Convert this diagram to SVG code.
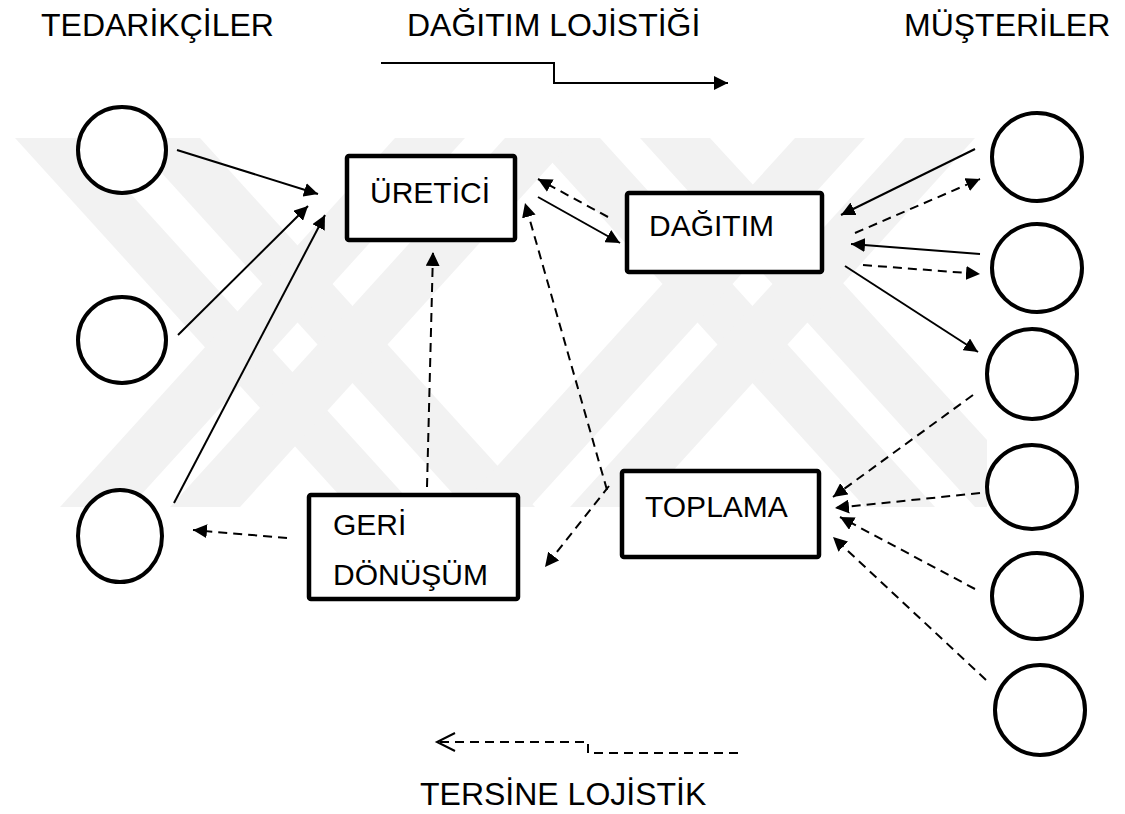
<svg xmlns="http://www.w3.org/2000/svg" width="1125" height="814" viewBox="0 0 1125 814">
<style>
.t{font-family:"Liberation Sans",Arial,sans-serif;fill:#000}
.h{font-size:32px}
.b{font-size:30px}
.c{fill:#fff;stroke:#000;stroke-width:4}
.box{fill:#fff;stroke:#000;stroke-width:4.5}
.s{fill:none;stroke:#000;stroke-width:2}
.d{fill:none;stroke:#000;stroke-width:2;stroke-dasharray:9 6}
.wm{fill:#f2f2f2}
</style>
<defs>
<marker id="ah" markerUnits="userSpaceOnUse" markerWidth="16" markerHeight="14" refX="14" refY="7" orient="auto">
<path d="M0,0 L14,7 L0,14 Z" fill="#000"/>
</marker>
</defs>
<rect width="1125" height="814" fill="#fff"/>
<g id="watermark">
<polygon class="wm" points="15,138 80,138 415,507 350,507"/>
<polygon class="wm" points="130,138 200,138 535,507 465,507"/>
<polygon class="wm" points="530,138 600,138 935,507 865,507"/>
<polygon class="wm" points="640,138 710,138 987,440 987,507 975,507"/>
<polygon class="wm" points="60,507 130,507 465,138 395,138"/>
<polygon class="wm" points="170,507 240,507 575,138 505,138"/>
<polygon class="wm" points="460,507 530,507 865,138 795,138"/>
<polygon class="wm" points="570,507 640,507 975,138 905,138"/>
</g>
<g id="labels">
<text class="t h" x="41" y="36">TEDARİKÇİLER</text>
<text class="t h" x="407" y="36">DAĞITIM LOJİSTİĞİ</text>
<text class="t h" x="904" y="36">MÜŞTERİLER</text>
<text class="t h" x="420" y="805">TERSİNE LOJİSTİK</text>
</g>
<g id="connectors">
<polyline class="s" points="381,63 554,63 554,83 728,83" marker-end="url(#ah)"/>
<polyline class="d" points="738,753 588,753 588,742 440,742"/>
<polyline class="s" points="455,733 437,742 455,751"/>
<line class="s" x1="177" y1="150" x2="318" y2="194" marker-end="url(#ah)"/>
<line class="s" x1="178" y1="335" x2="308" y2="206" marker-end="url(#ah)"/>
<line class="s" x1="174" y1="503" x2="325" y2="215" marker-end="url(#ah)"/>
<line class="s" x1="538" y1="197" x2="620" y2="243" marker-end="url(#ah)"/>
<line class="d" x1="608" y1="217" x2="538" y2="179" marker-end="url(#ah)"/>
<line class="d" x1="607" y1="490" x2="525" y2="203" marker-end="url(#ah)"/>
<line class="d" x1="427" y1="487" x2="433" y2="252" marker-end="url(#ah)"/>
<line class="d" x1="287" y1="538" x2="193" y2="530" marker-end="url(#ah)"/>
<line class="d" x1="609" y1="486" x2="545" y2="567" marker-end="url(#ah)"/>
<line class="s" x1="975" y1="149" x2="841" y2="215" marker-end="url(#ah)"/>
<line class="d" x1="855" y1="233" x2="980" y2="179" marker-end="url(#ah)"/>
<line class="s" x1="980" y1="254" x2="851" y2="244" marker-end="url(#ah)"/>
<line class="d" x1="863" y1="265" x2="980" y2="274" marker-end="url(#ah)"/>
<line class="s" x1="845" y1="266" x2="978" y2="352" marker-end="url(#ah)"/>
<line class="d" x1="973" y1="395" x2="833" y2="497" marker-end="url(#ah)"/>
<line class="d" x1="980" y1="493" x2="835" y2="508" marker-end="url(#ah)"/>
<line class="d" x1="975" y1="589" x2="840" y2="517" marker-end="url(#ah)"/>
<line class="d" x1="986" y1="680" x2="833" y2="537" marker-end="url(#ah)"/>
</g>
<g id="sup1"><ellipse class="c" cx="122" cy="150" rx="44" ry="43"/></g>
<g id="sup2"><ellipse class="c" cx="122" cy="340" rx="44" ry="43"/></g>
<g id="sup3"><ellipse class="c" cx="120" cy="536" rx="42" ry="46"/></g>
<g id="cus1"><ellipse class="c" cx="1037" cy="157" rx="45" ry="44"/></g>
<g id="cus2"><ellipse class="c" cx="1037" cy="268" rx="45" ry="44"/></g>
<g id="cus3"><ellipse class="c" cx="1032" cy="374" rx="45" ry="45"/></g>
<g id="cus4"><ellipse class="c" cx="1032" cy="487" rx="45" ry="42"/></g>
<g id="cus5"><ellipse class="c" cx="1037" cy="596" rx="45" ry="43"/></g>
<g id="cus6"><ellipse class="c" cx="1040" cy="710" rx="45" ry="45"/></g>
<g id="uretici"><rect class="box" x="347" y="156" width="168" height="84" rx="2"/><text class="t b" x="370" y="203">ÜRETİCİ</text></g>
<g id="dagitim"><rect class="box" x="627" y="193" width="195" height="79" rx="2"/><text class="t b" x="649" y="236">DAĞITIM</text></g>
<g id="toplama"><rect class="box" x="622" y="471" width="197" height="86" rx="2"/><text class="t b" x="645" y="517">TOPLAMA</text></g>
<g id="geridonusum"><rect class="box" x="309" y="495" width="209" height="104" rx="2"/><text class="t b" x="333" y="535">GERİ</text><text class="t b" x="333" y="585">DÖNÜŞÜM</text></g>
</svg>
